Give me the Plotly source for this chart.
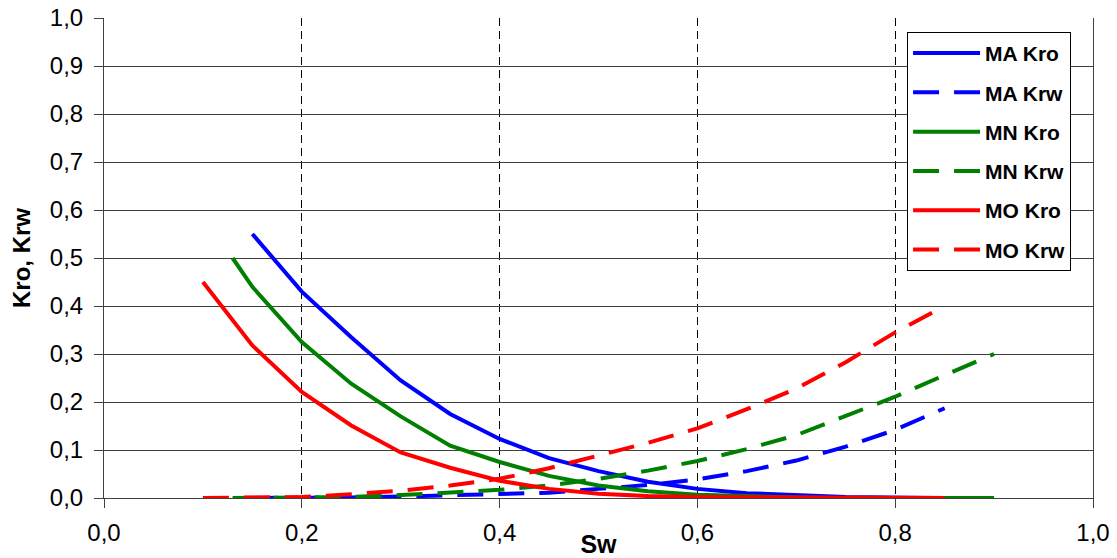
import plotly.graph_objects as go

# Water saturation grids for each sample
sw_ma = [0.15, 0.20, 0.25, 0.30, 0.35, 0.40, 0.45, 0.50, 0.55, 0.60, 0.65, 0.70, 0.75, 0.80, 0.85]
sw_mn = [0.13, 0.15, 0.20, 0.25, 0.30, 0.35, 0.40, 0.45, 0.50, 0.55, 0.60, 0.65, 0.70, 0.75, 0.80, 0.85, 0.90]
sw_mo = [0.10, 0.15, 0.20, 0.25, 0.30, 0.35, 0.40, 0.45, 0.50, 0.55, 0.60, 0.65, 0.70, 0.75, 0.80, 0.85]

# Relative permeabilities (oil / water)
ma_kro = [0.55, 0.43, 0.335, 0.245, 0.175, 0.123, 0.083, 0.056, 0.034, 0.019, 0.010, 0.005, 0.002, 0.001, 0.0]
ma_krw = [0.0, 0.0, 0.001, 0.003, 0.005, 0.008, 0.011, 0.019, 0.027, 0.039, 0.056, 0.078, 0.107, 0.142, 0.187]

mn_kro = [0.50, 0.44, 0.325, 0.238, 0.170, 0.109, 0.075, 0.046, 0.026, 0.014, 0.007, 0.003, 0.001, 0.0, 0.0, 0.0, 0.0]
mn_krw = [0.0, 0.0, 0.001, 0.002, 0.006, 0.011, 0.017, 0.026, 0.040, 0.057, 0.077, 0.102, 0.131, 0.171, 0.211, 0.256, 0.300]

mo_kro = [0.45, 0.318, 0.221, 0.151, 0.095, 0.063, 0.036, 0.019, 0.009, 0.004, 0.002, 0.001, 0.0, 0.0, 0.0, 0.0]
mo_krw = [0.0, 0.0, 0.002, 0.008, 0.015, 0.026, 0.040, 0.062, 0.088, 0.115, 0.145, 0.185, 0.228, 0.283, 0.345, 0.400]

x_ticks = [0.0, 0.2, 0.4, 0.6, 0.8, 1.0]
y_ticks = [0.0, 0.1, 0.2, 0.3, 0.4, 0.5, 0.6, 0.7, 0.8, 0.9, 1.0]

BLUE, GREEN, RED = "#0000FF", "#008000", "#FF0000"
DASH = "26px,15px"
LW = 4

series = [
    ("MA Kro", sw_ma, ma_kro, BLUE, "solid"),
    ("MA Krw", sw_ma, ma_krw, BLUE, DASH),
    ("MN Kro", sw_mn, mn_kro, GREEN, "solid"),
    ("MN Krw", sw_mn, mn_krw, GREEN, DASH),
    ("MO Kro", sw_mo, mo_kro, RED, "solid"),
    ("MO Krw", sw_mo, mo_krw, RED, DASH),
]

fig = go.Figure()
for i, (name, xs, ys, color, dash) in enumerate(series):
    fig.add_trace(go.Scatter(
        x=xs, y=ys, name=name, mode="lines", legendgroup=f"g{i}",
        line=dict(color=color, width=LW, dash=dash),
    ))

FONT = "Liberation Sans, Arial, sans-serif"

fig.update_layout(
    width=1117, height=558,
    margin=dict(l=104, r=24, t=18, b=60),
    paper_bgcolor="white", plot_bgcolor="white",
    separators=",.",
    font=dict(family=FONT, color="black"),
    showlegend=True,
    legend=dict(
        x=0.812, y=0.971, xanchor="left", yanchor="top",
        bgcolor="white", bordercolor="black", borderwidth=1,
        font=dict(family=FONT, size=21, weight="bold"),
        tracegroupgap=9,
        itemwidth=67,
        entrywidth=188, entrywidthmode="pixels",
    ),
    xaxis=dict(
        range=[0, 1], tickvals=x_ticks, tickformat=".1f",
        showgrid=True, gridcolor="black", gridwidth=1, griddash="8px,5px",
        showline=True, linecolor="#404040", linewidth=1,
        ticks="outside", ticklen=9, tickcolor="#404040",
        tickfont=dict(family=FONT, size=24),
        ticklabelstandoff=4,
        zeroline=False, automargin=False,
        title=dict(text="Sw", font=dict(family=FONT, size=25, weight="bold"), standoff=0),
    ),
    yaxis=dict(
        range=[0, 1], tickvals=y_ticks, tickformat=".1f",
        showgrid=True, gridcolor="#404040", gridwidth=1,
        showline=True, linecolor="#404040", linewidth=1, mirror=True,
        ticks="outside", ticklen=9, tickcolor="#404040",
        tickfont=dict(family=FONT, size=24),
        ticklabelstandoff=6,
        zeroline=False, automargin=False,
        title=dict(text="Kro, Krw", font=dict(family=FONT, size=24, weight="bold"), standoff=12),
    ),
)

fig.write_html("out.html")
